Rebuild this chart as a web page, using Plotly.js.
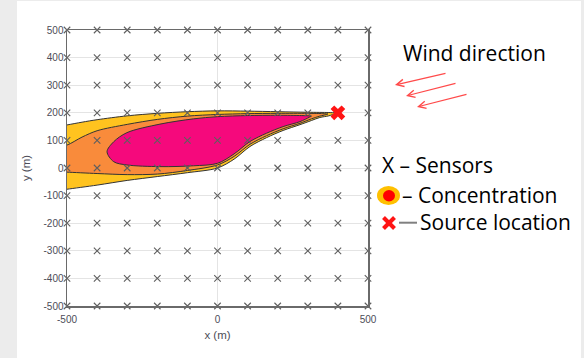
<!DOCTYPE html>
<html>
<head>
<meta charset="utf-8">
<script src="https://cdn.plot.ly/plotly-3.0.1.min.js"></script>
<style>
  html, body { margin: 0; padding: 0; background: #ffffff; }
  #chart { width: 584px; height: 358px; }
</style>
</head>
<body>
<div id="chart"></div>
<script>
// Sensor grid coordinates (m)
const sensorCols = [-500, -400, -300, -200, -100, 0, 100, 200, 300, 400, 500];
const sensorRows = [-500, -400, -300, -200, -100, 0, 100, 200, 300, 400, 500];

// Source location (m)
const sourceX = [400];
const sourceY = [200];

// Concentration contour bands (outer = lowest level)
const lowBandX  = [-520, -500, -450, -400, -300, -200, -100, 0, 100, 200, 300, 370, 392, 400,
                   392, 370, 340, 312, 274, 218, 163, 108, 55, 0, -100, -200, -300, -400, -500, -520];
const lowBandY  = [152, 156, 166, 175, 189, 198, 204, 207, 206, 204, 202, 201, 200, 200,
                   197, 189, 183, 172, 157, 136, 110, 78, 32, 0, -17, -31, -45, -62, -77, -80];

const midBandX  = [-520, -500, -450, -400, -300, -200, -100, 0, 100, 200, 300, 350, 362, 367,
                   360, 340, 312, 274, 218, 163, 108, 55, 0, -100, -200, -300, -400, -500, -520];
const midBandY  = [80, 83, 112, 135, 158, 176, 188, 194, 197, 198, 198, 197, 196, 196,
                   193, 188, 178, 162, 142, 117, 86, 42, 11, -9, -22, -24, -20, -15, -14];

const highBandX = [0, 100, 200, 280, 305, 312, 305, 274, 218, 163, 108, 55, 0, -80, -191, -301,
                   -345, -367, -345, -301, -191, -80, 0];
const highBandY = [186, 190, 191, 190, 189, 188, 184, 168, 150, 126, 96, 51, 17, 8, 5, 11,
                   23, 59, 95, 128, 159, 178, 186];

// Axis tick values
const xTicks = [-500, 0, 500];
const yTicks = [-500, -400, -300, -200, -100, 0, 100, 200, 300, 400, 500];

// Plot-area pixel geometry, used to place side notes in paper units
const PL = 67, PR = 368, PT = 30, PB = 306;
const px = v => (v - PL) / (PR - PL);
const py = v => (PB - v) / (PB - PT);

const sx = [], sy = [];
sensorRows.forEach(r => sensorCols.forEach(c => { sx.push(c); sy.push(r); }));

const outline = { color: '#333333', width: 1, shape: 'spline', smoothing: 0.9 };

const traces = [
  { x: lowBandX, y: lowBandY, type: 'scatter', mode: 'lines', fill: 'toself',
    fillcolor: '#FFC31F', line: outline, hoverinfo: 'skip' },
  { x: midBandX, y: midBandY, type: 'scatter', mode: 'lines', fill: 'toself',
    fillcolor: '#F98B3B', line: outline, hoverinfo: 'skip' },
  { x: highBandX, y: highBandY, type: 'scatter', mode: 'lines', fill: 'toself',
    fillcolor: '#F5097C', line: outline, hoverinfo: 'skip' },
  { x: sx, y: sy, type: 'scatter', mode: 'markers', cliponaxis: false,
    marker: { symbol: 'x-thin', size: 6.5, line: { color: '#5f5f5f', width: 1.1 } } },
  { x: sourceX, y: sourceY, type: 'scatter', mode: 'markers', cliponaxis: false,
    marker: { symbol: 'x', size: 13, color: '#FF1414', line: { width: 0 } } }
];

const noteFont = { family: 'Open Sans, sans-serif', size: 21, color: '#000000' };

function arrow(tailX, tailY, headX, headY) {
  return { xref: 'paper', yref: 'paper', x: px(headX), y: py(headY),
           ax: tailX - headX, ay: tailY - headY, text: '', showarrow: true,
           arrowhead: 5, arrowsize: 1.2, arrowwidth: 1.2, arrowcolor: '#FF4A4A' };
}

const annotations = [
  { xref: 'paper', yref: 'paper', x: px(401), y: py(53), xanchor: 'left', yanchor: 'middle',
    text: 'Wind direction', showarrow: false, font: noteFont },
  arrow(447, 73, 395, 85),
  arrow(457, 83, 406, 96),
  arrow(468, 94, 417, 107),
  { xref: 'paper', yref: 'paper', x: px(380), y: py(165), xanchor: 'left', yanchor: 'middle',
    text: 'X – Sensors', showarrow: false, font: noteFont },
  { xref: 'paper', yref: 'paper', x: px(400), y: py(195), xanchor: 'left', yanchor: 'middle',
    text: '– Concentration', showarrow: false, font: noteFont },
  { xref: 'paper', yref: 'paper', x: px(418), y: py(222), xanchor: 'left', yanchor: 'middle',
    text: 'Source location', showarrow: false, font: noteFont }
];

const shapes = [
  // page frame
  { type: 'rect', xref: 'paper', yref: 'paper', x0: px(-5), x1: px(590), y0: py(-5), y1: py(365),
    fillcolor: '#ECECEC', line: { width: 0 }, layer: 'below' },
  { type: 'rect', xref: 'paper', yref: 'paper', x0: px(17), x1: px(581), y0: py(1), y1: py(365),
    fillcolor: '#FFFFFF', line: { width: 0 }, layer: 'below' },
  // concentration key
  { type: 'circle', xref: 'paper', yref: 'paper', x0: px(377), x1: px(400), y0: py(205), y1: py(186),
    fillcolor: '#FFC000', line: { width: 0 } },
  { type: 'circle', xref: 'paper', yref: 'paper', x0: px(383), x1: px(395), y0: py(201.5), y1: py(190),
    fillcolor: '#FF0000', line: { width: 0 } },
  // source key
  { type: 'line', xref: 'paper', yref: 'paper', x0: px(383.5), x1: px(394.5), y0: py(217.5), y1: py(228.5),
    line: { color: '#FF1414', width: 4 } },
  { type: 'line', xref: 'paper', yref: 'paper', x0: px(383.5), x1: px(394.5), y0: py(228.5), y1: py(217.5),
    line: { color: '#FF1414', width: 4 } },
  { type: 'line', xref: 'paper', yref: 'paper', x0: px(399), x1: px(417), y0: py(222.7), y1: py(222.7),
    line: { color: '#808080', width: 2 } }
];

const tickFont = { family: 'Liberation Sans, Arial, sans-serif', size: 10, color: '#4d4d58' };
const titleFont = { family: 'Liberation Sans, Arial, sans-serif', size: 11.5, color: '#4d4d58' };

const layout = {
  width: 584, height: 358,
  margin: { l: PL, r: 584 - PR, t: PT, b: 358 - PB, pad: 0 },
  paper_bgcolor: '#FFFFFF', plot_bgcolor: 'rgba(0,0,0,0)',
  showlegend: false,
  xaxis: {
    range: [-500, 500], tickvals: xTicks, ticktext: xTicks.map(String),
    showgrid: true, gridcolor: '#E4E4E4', gridwidth: 1, zeroline: false,
    showline: true, mirror: true, linecolor: '#6a6a6a', linewidth: 1.5,
    ticks: '', ticklabelstandoff: 3, tickfont: tickFont, fixedrange: true,
    title: { text: 'x (m)', font: titleFont, standoff: 7 }
  },
  yaxis: {
    range: [-500, 500], tickvals: yTicks, ticktext: yTicks.map(String),
    showgrid: true, gridcolor: '#E4E4E4', gridwidth: 1, zeroline: false,
    showline: true, mirror: true, linecolor: '#6a6a6a', linewidth: 1.5,
    ticks: '', tickfont: tickFont, fixedrange: true,
    title: { text: 'y (m)', font: titleFont, standoff: 10 }
  },
  annotations: annotations,
  shapes: shapes
};

Plotly.newPlot('chart', traces, layout, { displayModeBar: false, staticPlot: true });
</script>
</body>
</html>
